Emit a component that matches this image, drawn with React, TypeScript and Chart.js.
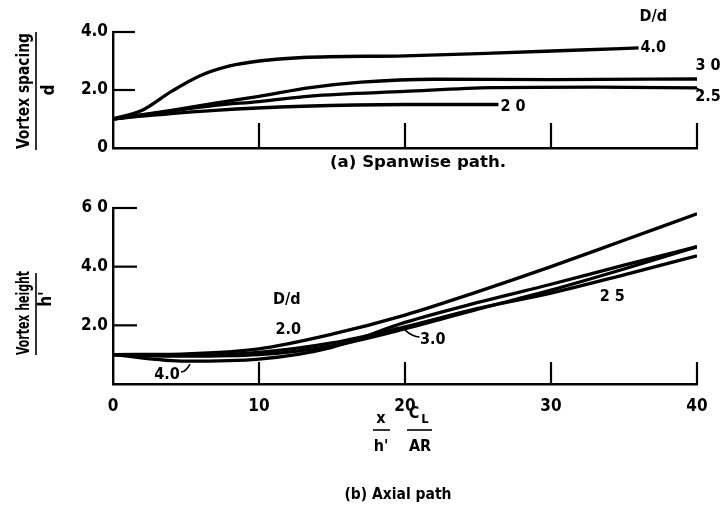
import { useEffect, useRef } from "react";
import { Chart, registerables } from "chart.js";

Chart.register(...registerables);

const FONT = "'DejaVu Sans Condensed', 'Liberation Sans Narrow', sans-serif";

// ---- (a) Spanwise path: vortex spacing / d ----
const spanX_20 = [0, 2, 7, 13, 20, 26.4];
const spanY_20 = [1.0, 1.1, 1.3, 1.44, 1.5, 1.5];
const spanX_25 = [0, 4, 7, 10, 13.5, 20, 26, 33, 40];
const spanY_25 = [1.0, 1.27, 1.47, 1.6, 1.79, 1.95, 2.08, 2.1, 2.07];
const spanX_30 = [0, 4, 7, 10, 13.5, 17, 22, 30, 40];
const spanY_30 = [1.0, 1.3, 1.55, 1.78, 2.08, 2.27, 2.37, 2.36, 2.38];
const spanX_40 = [0, 2, 4, 6, 8, 10, 13, 20, 26, 32, 36];
const spanY_40 = [1.0, 1.3, 1.95, 2.5, 2.83, 3.0, 3.12, 3.18, 3.27, 3.38, 3.45];

// ---- (b) Axial path: vortex height / h' ----
const axialX = [0, 5, 10, 15, 20, 25, 30, 35, 40];
const axialY_20 = [1.0, 1.03, 1.2, 1.7, 2.35, 3.15, 4.0, 4.9, 5.8];
const axialY_25 = [1.0, 0.98, 1.08, 1.4, 1.95, 2.58, 3.1, 3.72, 4.37];
const axialY_30 = [1.0, 0.95, 1.0, 1.3, 1.88, 2.55, 3.2, 3.92, 4.68];
const axialY_40 = [1.0, 0.78, 0.85, 1.25, 2.1, 2.78, 3.4, 4.05, 4.68];

// ---- ticks ----
const topYTickValues = [0, 2, 4];
const topYTickLabels = ["0", "2.0", "4.0"];
const topYTickMarks = [2, 4];
const topXTickMarks = [10, 20, 30, 40];

const botYTickValues = [2, 4, 6];
const botYTickLabels = ["2.0", "4.0", "6 0"];
const botYTickMarks = [2, 4, 6];
const botXTickValues = [0, 10, 20, 30, 40];
const botXTickLabels = ["0", "10", "20", "30", "40"];
const botXTickMarks = [10, 20, 30, 40];

// ---- curve labels (data coordinates) ----
const topCurveLabels = [
  { text: "D/d", x: 37.0, y: 4.52 },
  { text: "4.0", x: 37.0, y: 3.45 },
  { text: "3 0", x: 40.75, y: 2.83 },
  { text: "2.5", x: 40.75, y: 1.76 },
  { text: "2 0", x: 27.4, y: 1.41 },
];
const botCurveLabels = [
  { text: "D/d", x: 11.9, y: 2.86 },
  { text: "2.0", x: 12.0, y: 1.84 },
  { text: "4.0", x: 3.7, y: 0.31 },
  { text: "3.0", x: 21.9, y: 1.5 },
  { text: "2 5", x: 34.2, y: 2.97 },
];
// leader hooks: [x0,y0, cx,cy, x1,y1]
const topLeaders = [[40.0, 2.05, 40.3, 2.0, 40.3, 1.9]];
const botLeaders = [
  [4.66, 0.41, 5.0, 0.42, 5.27, 0.68],
  [21.0, 1.6, 20.5, 1.62, 20.0, 1.84],
];

function pts(xs: number[], ys: number[]) {
  return xs.map((x, i) => ({ x, y: ys[i] }));
}

function lineDs(data: { x: number; y: number }[]) {
  return {
    data,
    borderColor: "#000",
    borderWidth: 3.3,
    pointRadius: 0,
    fill: false,
    cubicInterpolationMode: "monotone" as const,
  };
}

function drawText(
  ctx: CanvasRenderingContext2D,
  s: string,
  x: number,
  y: number,
  font: string,
  opts: { rotate?: boolean; width?: number; align?: CanvasTextAlign } = {}
) {
  ctx.save();
  ctx.font = font;
  ctx.fillStyle = "#000";
  ctx.textAlign = opts.align || "center";
  ctx.textBaseline = "middle";
  ctx.translate(x, y);
  if (opts.rotate) ctx.rotate(-Math.PI / 2);
  if (opts.width) {
    const w = ctx.measureText(s).width;
    if (w > 0) ctx.scale(opts.width / w, 1);
  }
  ctx.fillText(s, 0, 0);
  ctx.restore();
}

function line(ctx: CanvasRenderingContext2D, x0: number, y0: number, x1: number, y1: number, w: number) {
  ctx.save();
  ctx.strokeStyle = "#000";
  ctx.lineWidth = w;
  ctx.beginPath();
  ctx.moveTo(x0, y0);
  ctx.lineTo(x1, y1);
  ctx.stroke();
  ctx.restore();
}

function drawMarksAndLabels(
  chart: any,
  yMarks: number[],
  xMarks: number[],
  yLen: number,
  xLen: number,
  labels: { text: string; x: number; y: number }[],
  leaders: number[][]
) {
  const { ctx, chartArea, scales } = chart;
  yMarks.forEach((v) => {
    const py = scales.y.getPixelForValue(v);
    line(ctx, chartArea.left, py, chartArea.left + yLen, py, 2.2);
  });
  xMarks.forEach((v) => {
    const px = scales.x.getPixelForValue(v);
    line(ctx, px, chartArea.bottom, px, chartArea.bottom - xLen, 2.2);
  });
  labels.forEach((l) => {
    drawText(ctx, l.text, scales.x.getPixelForValue(l.x), scales.y.getPixelForValue(l.y), `bold 16px ${FONT}`);
  });
  leaders.forEach((p) => {
    ctx.save();
    ctx.strokeStyle = "#000";
    ctx.lineWidth = 1.6;
    ctx.beginPath();
    ctx.moveTo(scales.x.getPixelForValue(p[0]), scales.y.getPixelForValue(p[1]));
    ctx.quadraticCurveTo(
      scales.x.getPixelForValue(p[2]),
      scales.y.getPixelForValue(p[3]),
      scales.x.getPixelForValue(p[4]),
      scales.y.getPixelForValue(p[5])
    );
    ctx.stroke();
    ctx.restore();
  });
}

const tickFont = { family: FONT, size: 17, weight: "bold" as const };

export default function App() {
  const topRef = useRef<HTMLCanvasElement>(null);
  const botRef = useRef<HTMLCanvasElement>(null);

  useEffect(() => {
    const top = new Chart(topRef.current!, {
      type: "line",
      data: {
        datasets: [
          lineDs(pts(spanX_20, spanY_20)),
          lineDs(pts(spanX_25, spanY_25)),
          lineDs(pts(spanX_30, spanY_30)),
          lineDs(pts(spanX_40, spanY_40)),
        ],
      },
      options: {
        responsive: false,
        animation: false,
        events: [],
        layout: { padding: { left: 73, right: 31, top: 32, bottom: 27 } },
        plugins: { legend: { display: false }, tooltip: { enabled: false } },
        scales: {
          x: {
            type: "linear",
            min: 0,
            max: 40,
            grid: { display: false, drawTicks: false },
            ticks: { display: false },
            border: { display: true, color: "#000", width: 2.4 },
            afterFit: (s: any) => {
              s.height = 0;
            },
          },
          y: {
            type: "linear",
            min: 0,
            max: 4,
            afterBuildTicks: (s: any) => {
              s.ticks = topYTickValues.map((v) => ({ value: v }));
            },
            ticks: {
              color: "#000",
              font: tickFont,
              padding: 5,
              callback: (v: any) => topYTickLabels[topYTickValues.indexOf(Number(v))] ?? "",
            },
            grid: { display: false, drawTicks: false },
            border: { display: true, color: "#000", width: 2.4 },
            afterFit: (s: any) => {
              s.width = 40;
            },
          },
        },
      },
      plugins: [
        {
          id: "topExtras",
          afterDraw(chart: any) {
            const ctx = chart.ctx;
            drawMarksAndLabels(chart, topYTickMarks, topXTickMarks, 22, 25, topCurveLabels, topLeaders);
            drawText(ctx, "Vortex spacing", 25, 91, `bold 17px ${FONT}`, { rotate: true, width: 116 });
            line(ctx, 36, 32, 36, 150, 1.6);
            drawText(ctx, "d", 50, 90, `bold 17px ${FONT}`, { rotate: true });
            drawText(ctx, "(a) Spanwise path.", 418, 163, `bold 15px ${FONT}`, { width: 176 });
          },
        },
      ],
    } as any);

    const bot = new Chart(botRef.current!, {
      type: "line",
      data: {
        datasets: [
          lineDs(pts(axialX, axialY_20)),
          lineDs(pts(axialX, axialY_25)),
          lineDs(pts(axialX, axialY_30)),
          lineDs(pts(axialX, axialY_40)),
        ],
      },
      options: {
        responsive: false,
        animation: false,
        events: [],
        layout: { padding: { left: 73, right: 31, top: 33, bottom: 88 } },
        plugins: { legend: { display: false }, tooltip: { enabled: false } },
        scales: {
          x: {
            type: "linear",
            min: 0,
            max: 40,
            afterBuildTicks: (s: any) => {
              s.ticks = botXTickValues.map((v) => ({ value: v }));
            },
            ticks: {
              color: "#000",
              font: tickFont,
              padding: 12,
              maxRotation: 0,
              callback: (v: any) => botXTickLabels[botXTickValues.indexOf(Number(v))] ?? "",
            },
            grid: { display: false, drawTicks: false },
            border: { display: true, color: "#000", width: 2.4 },
            afterFit: (s: any) => {
              s.height = 40;
            },
          },
          y: {
            type: "linear",
            min: 0,
            max: 6,
            afterBuildTicks: (s: any) => {
              s.ticks = botYTickValues.map((v) => ({ value: v }));
            },
            ticks: {
              color: "#000",
              font: tickFont,
              padding: 5,
              callback: (v: any) => botYTickLabels[botYTickValues.indexOf(Number(v))] ?? "",
            },
            grid: { display: false, drawTicks: false },
            border: { display: true, color: "#000", width: 2.4 },
            afterFit: (s: any) => {
              s.width = 40;
            },
          },
        },
      },
      plugins: [
        {
          id: "botExtras",
          afterDraw(chart: any) {
            const ctx = chart.ctx;
            drawMarksAndLabels(chart, botYTickMarks, botXTickMarks, 24, 22, botCurveLabels, botLeaders);
            drawText(ctx, "Vortex height", 25, 138, `bold 17px ${FONT}`, { rotate: true, width: 84 });
            line(ctx, 36, 98, 36, 180, 1.6);
            drawText(ctx, "h'", 47, 124, `bold 17px ${FONT}`, { rotate: true });
            // x-axis title: x/h'  C_L/AR
            drawText(ctx, "x", 381, 244, `bold 16px ${FONT}`);
            line(ctx, 373, 255, 390, 255, 1.6);
            drawText(ctx, "h'", 381, 272, `bold 16px ${FONT}`);
            drawText(ctx, "C", 414, 239, `bold 16px ${FONT}`);
            drawText(ctx, "L", 425, 245, `bold 13px ${FONT}`);
            line(ctx, 407, 255, 432, 255, 1.6);
            drawText(ctx, "AR", 420, 272, `bold 16px ${FONT}`);
            drawText(ctx, "(b) Axial path", 398, 320, `bold 15px ${FONT}`, { width: 107 });
          },
        },
      ],
    } as any);

    return () => {
      top.destroy();
      bot.destroy();
    };
  }, []);

  return (
    <div style={{ position: "absolute", left: 0, top: 0, width: 728, height: 512, background: "#fff" }}>
      <canvas ref={topRef} width={728} height={175} style={{ position: "absolute", left: 0, top: 0, width: 728, height: 175 }} />
      <canvas ref={botRef} width={728} height={337} style={{ position: "absolute", left: 0, top: 175, width: 728, height: 337 }} />
    </div>
  );
}
